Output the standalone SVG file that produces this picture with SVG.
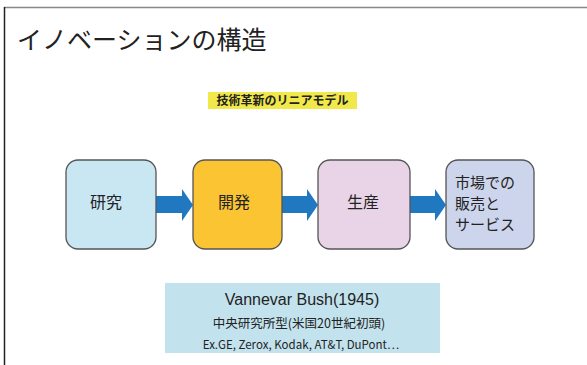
<svg xmlns="http://www.w3.org/2000/svg" width="587" height="365" viewBox="0 0 587 365">
<style>
.jp{font-family:"Noto Sans CJK JP","Noto Sans",sans-serif;fill:#222}
.box{stroke:#555;stroke-width:1.3}
.arrow{fill:#1f78c0}
</style>
<rect width="587" height="365" fill="#fff"/>
<line x1="4" y1="7.5" x2="587" y2="7.5" stroke="#888" stroke-width="1.5"/>
<line x1="4.5" y1="7" x2="4.5" y2="365" stroke="#222" stroke-width="1.5"/>
<text class="jp" x="17" y="49" font-size="25" fill="#111">イノベーションの構造</text>
<g id="label">
<rect x="208" y="92" width="149" height="17" fill="#f1e84a"/>
<text class="jp" x="282.5" y="105" font-size="12" font-weight="bold" text-anchor="middle" fill="#333">技術革新のリニアモデル</text>
</g>
<g id="connectors">
<polygon class="arrow" points="156,196 182,196 182,189 193,205 182,221 182,213 156,213"/>
<polygon class="arrow" points="282,196 307,196 307,189 318,205 307,221 307,213 282,213"/>
<polygon class="arrow" points="410,196 435,196 435,189 446,205 435,221 435,213 410,213"/>
</g>
<g id="n1"><rect class="box" x="66" y="160" width="90" height="89" rx="12" fill="#c9e6f3"/>
<text class="jp" x="106" y="208" font-size="16" text-anchor="middle">研究</text></g>
<g id="n2"><rect class="box" x="193" y="160" width="89" height="89" rx="12" fill="#fbc433"/>
<text class="jp" x="234" y="208" font-size="16" text-anchor="middle">開発</text></g>
<g id="n3"><rect class="box" x="318" y="160" width="92" height="89" rx="12" fill="#e8d4e6"/>
<text class="jp" x="363" y="208" font-size="16" text-anchor="middle">生産</text></g>
<g id="n4"><rect class="box" x="446" y="160" width="88" height="89" rx="12" fill="#ccd5ec"/>
<text class="jp" x="455" y="188" font-size="15" >市場での</text>
<text class="jp" x="455" y="209" font-size="15">販売と</text>
<text class="jp" x="455" y="230" font-size="15">サービス</text></g>
<g id="note">
<rect x="165" y="283" width="275" height="70" fill="#c2e2ee"/>
<text x="302" y="305" font-size="16" text-anchor="middle" font-family="Liberation Sans,sans-serif" fill="#222">Vannevar Bush(1945)</text>
<text class="jp" x="299" y="328" font-size="12.5" text-anchor="middle">中央研究所型(米国20世紀初頭)</text>
<text class="jp" x="301" y="349" font-size="11.5" text-anchor="middle">Ex.GE, Zerox, Kodak, AT&amp;T, DuPont…</text>
</g>
</svg>
